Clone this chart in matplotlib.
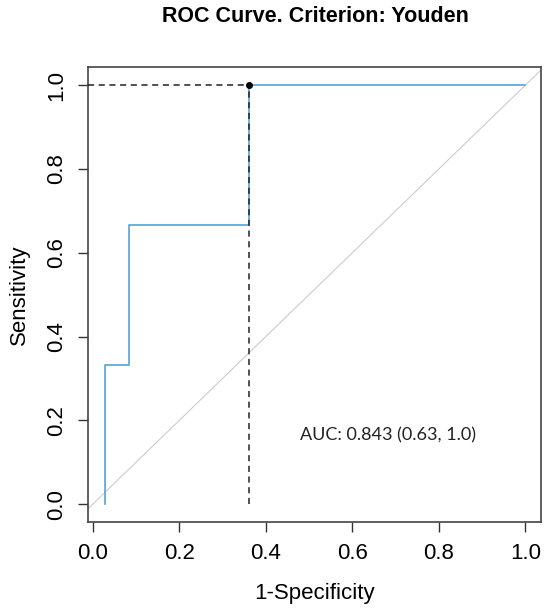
import matplotlib.pyplot as plt
import numpy as np

plt.rcParams['font.family'] = ['Liberation Sans', 'DejaVu Sans']

# ROC steps (1-specificity, sensitivity)
fpr = [0.028, 0.028, 0.083, 0.083, 0.361, 0.361, 1.0]
tpr = [0.0, 0.333, 0.333, 0.667, 0.667, 1.0, 1.0]
cut_x = 0.361
cut_y = 1.0
auc_text = "AUC: 0.843 (0.63, 1.0)"
ticks = [0.0, 0.2, 0.4, 0.6, 0.8, 1.0]
tick_labels = ["0.0", "0.2", "0.4", "0.6", "0.8", "1.0"]

fig = plt.figure(figsize=(5.5, 6.12), dpi=100)
ax = fig.add_axes([0.1605, 0.1475, 0.8225, 0.743])
xlo, xhi = -0.01, 1.035
ylo, yhi = -0.0415, 1.043
ax.set_xlim(xlo, xhi)
ax.set_ylim(ylo, yhi)

# chance line
ax.axline((0, 0), (1, 1), color='#cccccc', lw=0.8, zorder=1)

# ROC curve
ax.plot(fpr, tpr, color='#4ea5dc', lw=1.2, zorder=2)

# threshold lines and point
ax.plot([xlo, cut_x], [cut_y, cut_y], color='#222222', lw=1.1, ls=(0, (4, 3)), zorder=3)
ax.plot([cut_x, cut_x], [0, cut_y], color='#222222', lw=1.1, ls=(0, (4, 3)), zorder=3)
ax.plot([cut_x], [cut_y], 'o', color='black', ms=4, zorder=4)

ax.text(0.682, 0.165, auc_text, ha='center', va='center', fontsize=13,
        family=['Lato', 'DejaVu Sans'], color='#222222')

ax.set_xticks(ticks)
ax.set_xticklabels(tick_labels)
ax.set_yticks(ticks)
ax.set_yticklabels(tick_labels, rotation=90, va='center')
ax.tick_params(direction='out', length=7, width=1, colors='#333333',
               labelsize=16, labelcolor='black', pad=8)

for s in ax.spines.values():
    s.set_linewidth(1.2)
    s.set_color('#444444')

ax.set_xlabel("1-Specificity", fontsize=16, labelpad=14)
ax.set_ylabel("Sensitivity", fontsize=16, labelpad=12)
fig.suptitle("ROC Curve. Criterion: Youden", fontsize=15.5, fontweight='bold',
             x=0.574, y=0.99)

fig.savefig("out.png", dpi=100)
